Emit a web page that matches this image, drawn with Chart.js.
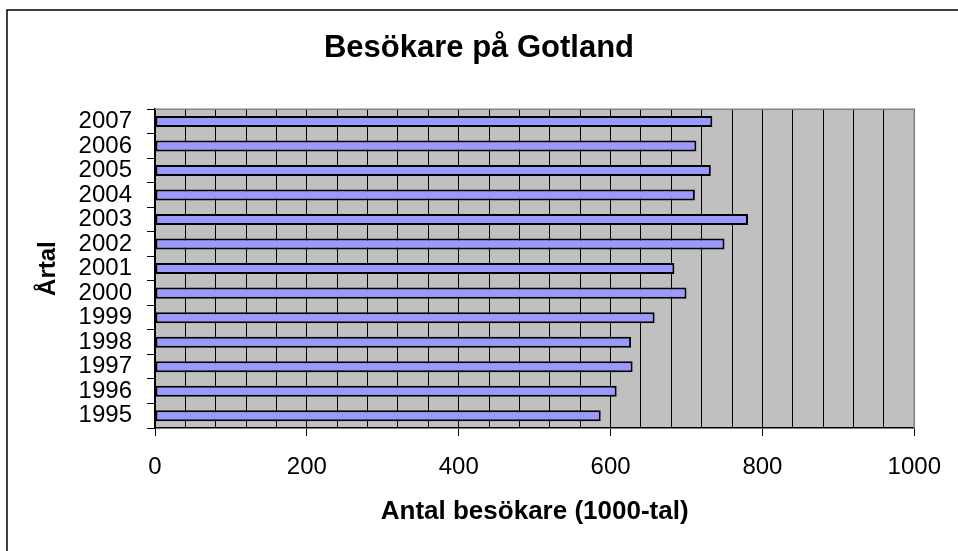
<!DOCTYPE html>
<html>
<head>
<meta charset="utf-8">
<script src="https://cdn.jsdelivr.net/npm/chart.js@4"></script>
<style>
  html, body { margin: 0; padding: 0; background: #fff; }
  #wrap { width: 958px; height: 551px; }
</style>
</head>
<body>
<div id="wrap"><canvas id="myChart"></canvas></div>
<script>
const years = ['1995', '1996', '1997', '1998', '1999', '2000', '2001', '2002', '2003', '2004', '2005', '2006', '2007'];
const visitors = [587, 608, 629, 627, 658, 700, 684, 750, 781, 711, 732, 713, 734];
const tickLabels = [0, 200, 400, 600, 800, 1000];

// gray plot area + frame lines
const plotBg = {
  id: 'plotBg',
  beforeDraw(chart) {
    const { ctx, chartArea: a } = chart;
    ctx.save();
    ctx.fillStyle = '#c0c0c0';
    ctx.fillRect(a.left, a.top, a.right - a.left, a.bottom - a.top);
    ctx.restore();
  },
  afterDraw(chart) {
    const { ctx, chartArea: a } = chart;
    ctx.save();
    ctx.strokeStyle = '#808080';
    ctx.lineWidth = 1.5;
    ctx.beginPath();
    ctx.moveTo(a.left, a.top);
    ctx.lineTo(a.right, a.top);
    ctx.lineTo(a.right, a.bottom);
    ctx.stroke();
    // outer border of the chart (only left/top visible)
    ctx.strokeStyle = '#000';
    ctx.lineWidth = 1.5;
    ctx.beginPath();
    ctx.moveTo(7, 551);
    ctx.lineTo(7, 10);
    ctx.lineTo(958, 10);
    ctx.stroke();
    ctx.restore();
  }
};

const data = {
  labels: years,
  datasets: [{
    label: 'Besökare',
    data: visitors,
    backgroundColor: '#9999ff',
    borderColor: '#000000',
    borderWidth: 2,
    borderSkipped: false,
    categoryPercentage: 1,
    barPercentage: 0.45
  }]
};

const config = {
  type: 'bar',
  data: data,
  options: {
    indexAxis: 'y',
    responsive: true,
    maintainAspectRatio: false,
    animation: false,
    layout: { padding: 0 },
    plugins: {
      legend: { display: false },
      tooltip: { enabled: false },
      title: {
        display: true,
        text: 'Besökare på Gotland',
        color: '#000',
        font: { family: 'Liberation Sans', size: 31, weight: 'bold' },
        padding: { top: 30, bottom: 42 }
      }
    },
    scales: {
      x: {
        min: 0,
        max: 1000,
        afterFit(scale) { scale.height = 123; },
        ticks: {
          stepSize: 40,
          autoSkip: false,
          maxRotation: 0,
          padding: 17,
          color: '#000',
          font: { family: 'Liberation Sans', size: 24 },
          callback: function(value) {
            return tickLabels.includes(value) ? value : '';
          }
        },
        grid: {
          color: '#000',
          lineWidth: 1,
          tickLength: 8,
          tickColor: (c) => (c.tick && tickLabels.includes(c.tick.value)) ? '#000' : 'rgba(0,0,0,0)'
        },
        border: { color: '#000', width: 1.5 },
        title: {
          display: true,
          text: 'Antal besökare (1000-tal)',
          color: '#000',
          font: { family: 'Liberation Sans', size: 26, weight: 'bold' },
          padding: { top: 0, bottom: 24 }
        }
      },
      y: {
        reverse: true,
        afterFit(scale) { scale.width = 155; },
        ticks: {
          autoSkip: false,
          padding: 15,
          color: '#000',
          font: { family: 'Liberation Sans', size: 24 }
        },
        grid: {
          offset: true,
          drawOnChartArea: false,
          tickLength: 8,
          color: '#000'
        },
        border: { color: '#000', width: 1.5 },
        title: {
          display: true,
          text: 'Årtal',
          color: '#000',
          font: { family: 'Liberation Sans', size: 24, weight: 'bold' },
          padding: { top: 34, bottom: 0 }
        }
      },
      // empty right box so the plot ends at 917 while the title stays centred on the page
      yRight: {
        type: 'linear',
        position: 'right',
        afterFit(scale) { scale.width = 41; },
        ticks: { display: false },
        grid: { display: false },
        border: { display: false }
      }
    }
  },
  plugins: [plotBg]
};

var myChart = new Chart(
  document.getElementById('myChart'),
  config
);
</script>
</body>
</html>
